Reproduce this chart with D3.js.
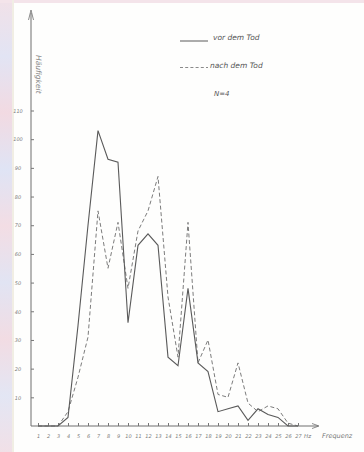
<!doctype html>
<html>
  <head>
    <meta charset="utf-8">
    <script src="https://cdn.jsdelivr.net/npm/d3@7"></script>
    <style>
      body { margin: 0; background: #fff; }
      svg { display: block; }
      .tick text { font-family: "DejaVu Sans", sans-serif; font-style: italic; fill: #7a7a7a; }
      .tick line { stroke: #777; }
    </style>
  </head>
  <body>
    <svg id="chart" width="364" height="452"></svg>

    <script>
      // frequency in Hz
      var hz = d3.range(1, 28);
      // Haeufigkeit
      var vor  = [0, 0, 0, 3, 35, 70, 103, 93, 92, 36, 63, 67, 63, 24, 21, 48, 22, 19, 5, 6, 7, 2, 6, 4, 3, 0, 0];
      var nach = [0, 0, 0, 5, 17, 31, 75, 55, 71, 48, 68, 75, 87, 45, 24, 71, 22, 30, 11, 10, 22, 8, 5, 7, 6, 1, 0];
      var yTicks = [10, 20, 30, 40, 50, 60, 70, 80, 90, 100, 110];
      var legendLabels = ["vor dem Tod", "nach dem Tod"];

      var svg = d3.select("#chart");

      // scanned page edge on the left and top
      var grad = svg.append("defs").append("linearGradient")
        .attr("id", "edge").attr("x1", 0).attr("y1", 0).attr("x2", 0).attr("y2", 1);
      var stops = ["#f1e1e8", "#e2e4f4", "#f2dae2", "#dfe4f5", "#f3dde4", "#e1e4f3", "#f2dce3", "#e3e6f4", "#f1e0e7"];
      stops.forEach(function(c, i) {
        grad.append("stop").attr("offset", i / (stops.length - 1)).attr("stop-color", c);
      });
      svg.append("rect").attr("width", 364).attr("height", 452).attr("fill", "#fefefd");
      svg.append("rect").attr("width", 13).attr("height", 452).attr("fill", "url(#edge)");
      svg.append("rect").attr("width", 364).attr("height", 3).attr("fill", "#f4e4ea");
      svg.append("rect").attr("x", 12).attr("width", 2).attr("height", 452).attr("fill", "#f1eee4");

      var x = d3.scaleLinear().domain([1, 27]).range([38, 298]);
      var y = d3.scaleLinear().domain([0, 110]).range([426, 110.5]);

      // axes lines with arrows
      var axisColor = "#6e6e6e";
      svg.append("line").attr("x1", 31).attr("x2", 31).attr("y1", 13).attr("y2", 426)
        .attr("stroke", axisColor).attr("stroke-width", 1);
      svg.append("path").attr("d", "M28.5,20 L31,10 L33.5,20").attr("fill", "none")
        .attr("stroke", axisColor).attr("stroke-width", 0.8);
      svg.append("line").attr("x1", 31).attr("x2", 318).attr("y1", 426).attr("y2", 426)
        .attr("stroke", axisColor).attr("stroke-width", 1);
      svg.append("path").attr("d", "M312,423.5 L319,426 L312,428.5").attr("fill", "none")
        .attr("stroke", axisColor).attr("stroke-width", 0.8);

      var yAxis = svg.append("g")
        .attr("transform", "translate(31,0)")
        .call(d3.axisRight(y).tickValues(yTicks).tickSize(3).tickFormat(""));
      yAxis.select(".domain").remove();
      yAxis.selectAll(".tick").append("text")
        .attr("x", -13).attr("dy", "0.35em")
        .attr("text-anchor", "middle")
        .attr("font-size", 5)
        .text(function(d) { return d; });

      var xAxis = svg.append("g")
        .attr("transform", "translate(0,426)")
        .call(d3.axisBottom(x).tickValues(hz).tickSize(-3).tickPadding(8));
      xAxis.select(".domain").remove();
      xAxis.selectAll(".tick text").attr("font-size", 5);

      svg.append("text").attr("x", 304).attr("y", 438)
        .attr("font-family", "DejaVu Sans").attr("font-style", "italic")
        .attr("font-size", 5.5).attr("fill", "#777").text("Hz");
      svg.append("text").attr("x", 322).attr("y", 438)
        .attr("font-family", "DejaVu Sans").attr("font-style", "italic")
        .attr("font-size", 6.5).attr("fill", "#777").text("Frequenz");

      svg.append("text")
        .attr("transform", "translate(36,55) rotate(90)")
        .attr("font-family", "DejaVu Sans").attr("font-style", "italic")
        .attr("font-size", 7.5).attr("fill", "#888").text("Häufigkeit");

      var line = d3.line()
        .x(function(d, i) { return x(hz[i]); })
        .y(function(d) { return y(d); });

      svg.append("path").datum(nach)
        .attr("d", line).attr("fill", "none")
        .attr("stroke", "#7c7c7c").attr("stroke-width", 1)
        .attr("stroke-dasharray", "4,2.5");
      svg.append("path").datum(vor)
        .attr("d", line).attr("fill", "none")
        .attr("stroke", "#5a5a5a").attr("stroke-width", 1.1);

      // legend
      var legend = svg.append("g");
      legend.append("line").attr("x1", 180).attr("x2", 208).attr("y1", 41).attr("y2", 41)
        .attr("stroke", "#5a5a5a").attr("stroke-width", 1);
      legend.append("line").attr("x1", 180).attr("x2", 208).attr("y1", 67.5).attr("y2", 67.5)
        .attr("stroke", "#8a8a8a").attr("stroke-width", 1).attr("stroke-dasharray", "3,2.2");
      legend.selectAll("text.lab").data(legendLabels).enter().append("text")
        .attr("class", "lab")
        .attr("x", function(d, i) { return i ? 210 : 213; })
        .attr("y", function(d, i) { return i ? 68 : 40; })
        .attr("font-family", "DejaVu Sans").attr("font-style", "italic")
        .attr("font-size", 7.5).attr("fill", "#555")
        .text(function(d) { return d; });
      legend.append("text").attr("x", 214).attr("y", 96)
        .attr("font-family", "DejaVu Sans").attr("font-style", "italic")
        .attr("font-size", 7).attr("fill", "#555").text("N=4");
    </script>
  </body>
</html>
